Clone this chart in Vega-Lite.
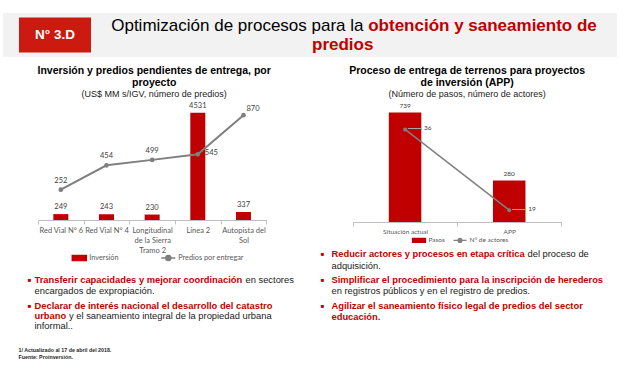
{
  "$schema": "https://vega.github.io/schema/vega-lite/v6.json",
  "background": "white",
  "padding": {"left": 3, "top": 13, "right": 0, "bottom": 0},
  "config": {
    "view": {"stroke": null},
    "font": "Liberation Sans",
    "axis": {"domainColor": "#bfbfbf", "tickColor": "#bfbfbf", "tickSize": 4, "labelAngle": 0, "labelFont": "Lato", "labelColor": "#595959", "labelPadding": 2.5, "labelLineHeight": 10, "tickBand": "extent", "labelLimit": 0, "grid": false, "title": null},
    "title": {"frame": "group"},
    "text": {"baseline": "middle", "align": "left"}
  },
  "spacing": 43,
  "bounds": "flush",
  "vconcat": [
    {
      "width": 614,
      "height": 44,
      "view": {"fill": "#f2f2f2", "stroke": null},
      "data": {"values": [{"code": "N° 3.D"}]},
      "layer": [
        {"mark": {"type": "rect", "color": "#cc1a10"},
          "encoding": {
            "x": {"field": "code", "type": "nominal", "scale": {"domain": ["N° 3.D", "_1", "_2", "_3", "_4", "_5", "_6", "_7"], "paddingInner": 0, "paddingOuter": 0.264, "align": 0.421}, "axis": null},
            "y": {"field": "code", "type": "nominal", "scale": {"paddingInner": 0, "paddingOuter": 0.1286, "align": 0.5}, "axis": null}
          }},
        {"mark": {"type": "text", "color": "white", "fontWeight": "bold", "fontSize": 13.5, "align": "center", "baseline": "middle"},
          "encoding": {
            "x": {"field": "code", "type": "nominal"},
            "y": {"field": "code", "type": "nominal"},
            "text": {"field": "code", "type": "nominal"}
          }},
        {"mark": {"type": "text", "align": "right", "baseline": "middle", "fontSize": 17, "color": "#000000", "dx": 53.5, "dy": -9}, "encoding": {"text": {"value": "Optimización de procesos para la"}}},
        {"mark": {"type": "text", "align": "left", "baseline": "middle", "fontSize": 17, "fontWeight": "bold", "color": "#c00000", "dx": 58.2, "dy": -9}, "encoding": {"text": {"value": "obtención y saneamiento de"}}},
        {"mark": {"type": "text", "align": "center", "baseline": "middle", "fontSize": 17, "fontWeight": "bold", "color": "#c00000", "dx": 32.7, "dy": 9.7}, "encoding": {"text": {"value": "predios"}}}
      ]
    },
    {
      "spacing": 0,
      "bounds": "flush",
      "resolve": {"scale": {"color": "independent"}, "legend": {"color": "independent"}},
      "hconcat": [
        {"data": {"values": [{}]}, "width": 14.5, "height": 1, "mark": "text", "encoding": {"text": {"value": ""}}},
        {"data": {"values": [{}]}, "width": 1, "height": 250,
          "mark": {"type": "text", "align": "left", "baseline": "middle", "fontSize": 5.3, "fontWeight": "bold", "lineHeight": 6.6, "lineBreak": "\n", "color": "#262626"},
          "encoding": {
            "y": {"datum": "f", "type": "ordinal", "scale": {"type": "point", "padding": 0, "align": 1}, "axis": null},
            "text": {"value": "1/ Actualizado al 17 de abril del 2018.\nFuente: Proinversión."}
          }},
        {"data": {"values": [{}]}, "width": 14.3, "height": 1, "mark": "text", "encoding": {"text": {"value": ""}}},
        {
          "width": 1,
          "height": 205.7,
          "encoding": {"y": {"field": "b", "type": "ordinal", "scale": {"type": "point", "domain": [0, 1, 2, 3, 4, 5, 6, 7, 8], "padding": 0}, "axis": null}},
          "layer": [
            {"data": {"values": [{"b": 7}, {"b": 8}]}, "mark": {"type": "text", "align": "center", "fontSize": 6, "color": "#c00000", "dx": -5}, "encoding": {"text": {"value": "■"}}},
            {"data": {"values": [{"b": 7, "t": "Transferir capacidades y mejorar coordinación"}, {"b": 8, "t": "Declarar de interés nacional el desarrollo del catastro"}]},
              "mark": {"type": "text", "fontSize": 9.35, "fontWeight": "bold", "color": "#c00000"}, "encoding": {"text": {"field": "t", "type": "nominal"}}},
            {"data": {"values": [{"b": 7, "t": "en sectores"}]},
              "mark": {"type": "text", "dx": 211, "fontSize": 9.35, "color": "#1a1a1a"}, "encoding": {"text": {"field": "t", "type": "nominal"}}},
            {"data": {"values": [{"b": 7, "t": "encargados de expropiación."}]},
              "mark": {"type": "text", "dy": 10.7, "fontSize": 9.35, "color": "#1a1a1a"}, "encoding": {"text": {"field": "t", "type": "nominal"}}},
            {"data": {"values": [{"b": 8, "t": "urbano"}]},
              "mark": {"type": "text", "dy": 10.3, "fontSize": 9.35, "fontWeight": "bold", "color": "#c00000"}, "encoding": {"text": {"field": "t", "type": "nominal"}}},
            {"data": {"values": [{"b": 8, "t": "y el saneamiento integral de la propiedad urbana"}]},
              "mark": {"type": "text", "dy": 10.3, "dx": 34.5, "fontSize": 9.35, "color": "#1a1a1a"}, "encoding": {"text": {"field": "t", "type": "nominal"}}},
            {"data": {"values": [{"b": 8, "t": "informal.."}]},
              "mark": {"type": "text", "dy": 20.6, "fontSize": 9.35, "color": "#1a1a1a"}, "encoding": {"text": {"field": "t", "type": "nominal"}}}
          ]
        },
        {"data": {"values": [{}]}, "width": 2.9, "height": 1, "mark": "text", "encoding": {"text": {"value": ""}}},
        {
          "width": 228.3,
          "height": 120,
          "title": {"text": ["Inversión y predios pendientes de entrega, por", "proyecto"], "subtitle": "(US$ MM s/IGV, número de predios)", "font": "Liberation Sans", "fontSize": 10.5, "fontWeight": "bold", "color": "#000000", "lineHeight": 12, "subtitleFont": "Liberation Sans", "subtitleFontSize": 9, "subtitleColor": "#1a1a1a", "subtitlePadding": 2, "offset": 1, "anchor": "middle", "dx": 2},
          "data": {"values": [
            {"proyecto": "Red Vial N° 6", "inversion": 249, "predios": 252},
            {"proyecto": "Red Vial N° 4", "inversion": 243, "predios": 454},
            {"proyecto": "Longitudinal de la Sierra Tramo 2", "inversion": 230, "predios": 499},
            {"proyecto": "Línea 2", "inversion": 4531, "predios": 545},
            {"proyecto": "Autopista del Sol", "inversion": 337, "predios": 870}
          ]},
          "encoding": {
            "x": {"field": "proyecto", "type": "nominal", "sort": null, "title": null, "scale": {"paddingInner": 0, "paddingOuter": 0},
              "axis": {"labelFontSize": 7.5, "labelExpr": "datum.value == 'Longitudinal de la Sierra Tramo 2' ? ['Longitudinal','de la Sierra','Tramo 2'] : datum.value == 'Autopista del Sol' ? ['Autopista del','Sol'] : datum.value"}}
          },
          "layer": [
            {
              "layer": [
                {"mark": {"type": "bar", "size": 15},
                  "encoding": {
                    "y": {"field": "inversion", "type": "quantitative", "scale": {"domain": [0, 5070], "nice": false}, "axis": null},
                    "color": {"datum": "Inversión", "type": "nominal", "scale": {"domain": ["Inversión", "Predios por entregar"], "range": ["#c00000", "#7f7f7f"]},
                      "legend": {"orient": "none", "legendX": 33.3, "legendY": 149.7, "direction": "horizontal", "title": null, "padding": 0, "labelFont": "Lato", "labelFontSize": 7.3, "labelColor": "#595959", "symbolSize": 196, "labelOffset": 2, "columnPadding": 39,
                        "encode": {"symbols": {"update": {"shape": {"signal": "datum.value == 'Inversión' ? 'M-1,-0.36H1V0.36H-1Z' : 'M-1,0H1M0.36,0A0.36,0.36,0,1,1,-0.36,0A0.36,0.36,0,1,1,0.36,0'"}, "fill": {"scale": "color", "field": "value"}, "stroke": {"scale": "color", "field": "value"}, "strokeWidth": {"value": 1.5}}}}}}
                  }},
                {"mark": {"type": "text", "align": "center", "baseline": "bottom", "dy": -3, "font": "Lato", "fontSize": 7.5, "color": "#404040"},
                  "encoding": {
                    "y": {"field": "inversion", "type": "quantitative", "scale": {"domain": [0, 5070], "nice": false}, "axis": null},
                    "text": {"field": "inversion", "type": "quantitative", "format": "d"}
                  }}
              ]
            },
            {
              "layer": [
                {"mark": {"type": "line", "strokeWidth": 2, "point": {"filled": true, "size": 22}},
                  "encoding": {
                    "y": {"field": "predios", "type": "quantitative", "scale": {"domain": [0, 996], "nice": false}, "axis": null},
                    "color": {"datum": "Predios por entregar", "type": "nominal"}
                  }},
                {"transform": [{"filter": "datum.predios < 540"}],
                  "mark": {"type": "text", "align": "center", "baseline": "bottom", "dy": -5, "font": "Lato", "fontSize": 7.5, "color": "#404040"},
                  "encoding": {
                    "y": {"field": "predios", "type": "quantitative", "scale": {"domain": [0, 996], "nice": false}, "axis": null},
                    "text": {"field": "predios", "type": "quantitative", "format": "d"}
                  }},
                {"transform": [{"filter": "datum.predios == 545"}],
                  "mark": {"type": "text", "baseline": "middle", "align": "left", "dx": 7, "dy": -1, "font": "Lato", "fontSize": 7.5, "color": "#404040"},
                  "encoding": {
                    "y": {"field": "predios", "type": "quantitative", "scale": {"domain": [0, 996], "nice": false}, "axis": null},
                    "text": {"field": "predios", "type": "quantitative", "format": "d"}
                  }},
                {"transform": [{"filter": "datum.predios == 870"}],
                  "mark": {"type": "text", "baseline": "bottom", "align": "left", "dx": 3, "dy": -2, "font": "Lato", "fontSize": 7.5, "color": "#404040"},
                  "encoding": {
                    "y": {"field": "predios", "type": "quantitative", "scale": {"domain": [0, 996], "nice": false}, "axis": null},
                    "text": {"field": "predios", "type": "quantitative", "format": "d"}
                  }}
              ]
            }
          ],
          "resolve": {"scale": {"y": "independent"}}
        },
        {"data": {"values": [{}]}, "width": 63.5, "height": 1, "mark": "text", "encoding": {"text": {"value": ""}}},
        {
          "width": 1,
          "height": 205.7,
          "encoding": {"y": {"field": "b", "type": "ordinal", "scale": {"type": "point", "domain": [0, 1, 2, 3, 4, 5, 6, 7, 8], "padding": 0}, "axis": null}},
          "layer": [
            {"data": {"values": [{"b": 6}, {"b": 7}, {"b": 8}]}, "mark": {"type": "text", "align": "center", "fontSize": 6, "color": "#c00000", "dx": -9}, "encoding": {"text": {"value": "■"}}},
            {"data": {"values": [{"b": 6, "t": "Reducir actores y procesos en etapa crítica"}, {"b": 7, "t": "Simplificar el procedimiento para la inscripción de herederos"}, {"b": 8, "t": "Agilizar el saneamiento físico legal de predios del sector"}]},
              "mark": {"type": "text", "fontSize": 9.35, "fontWeight": "bold", "color": "#c00000"}, "encoding": {"text": {"field": "t", "type": "nominal"}}},
            {"data": {"values": [{"b": 6, "t": "del proceso de"}]},
              "mark": {"type": "text", "dx": 196, "fontSize": 9.35, "color": "#1a1a1a"}, "encoding": {"text": {"field": "t", "type": "nominal"}}},
            {"data": {"values": [{"b": 6, "t": "adquisición."}, {"b": 7, "t": "en registros públicos y en el registro de predios."}]},
              "mark": {"type": "text", "dy": 11.3, "fontSize": 9.35, "color": "#1a1a1a"}, "encoding": {"text": {"field": "t", "type": "nominal"}}},
            {"data": {"values": [{"b": 8, "t": "educación."}]},
              "mark": {"type": "text", "dy": 11.6, "fontSize": 9.35, "fontWeight": "bold", "color": "#c00000"}, "encoding": {"text": {"field": "t", "type": "nominal"}}}
          ]
        },
        {"data": {"values": [{}]}, "width": 20.5, "height": 1, "mark": "text", "encoding": {"text": {"value": ""}}},
        {
          "width": 208.3,
          "height": 122,
          "title": {"text": ["Proceso de entrega de terrenos para proyectos", "de inversión (APP)"], "subtitle": "(Número de pasos, número de actores)", "font": "Liberation Sans", "fontSize": 10.5, "fontWeight": "bold", "color": "#000000", "lineHeight": 12, "subtitleFont": "Liberation Sans", "subtitleFontSize": 9, "subtitleColor": "#1a1a1a", "subtitlePadding": 2, "offset": 1, "anchor": "middle", "dx": 10},
          "data": {"values": [
            {"etapa": "Situación actual", "pasos": 739, "actores": 36},
            {"etapa": "APP", "pasos": 280, "actores": 19}
          ]},
          "encoding": {
            "x": {"field": "etapa", "type": "nominal", "sort": null, "title": null, "scale": {"paddingInner": 0, "paddingOuter": 0}, "axis": {"labelFontSize": 6.5}}
          },
          "layer": [
            {
              "layer": [
                {"mark": {"type": "bar", "size": 32.5},
                  "encoding": {
                    "y": {"field": "pasos", "type": "quantitative", "scale": {"domain": [0, 824], "nice": false}, "axis": null},
                    "color": {"datum": "Pasos", "type": "nominal", "scale": {"domain": ["Pasos", "N° de actores"], "range": ["#c00000", "#808080"]},
                      "legend": {"orient": "none", "legendX": 58.5, "legendY": 132.8, "direction": "horizontal", "title": null, "padding": 0, "labelFont": "Lato", "labelFontSize": 6.5, "labelColor": "#595959", "symbolSize": 169, "labelOffset": 2, "columnPadding": 5,
                        "encode": {"symbols": {"update": {"shape": {"signal": "datum.value == 'Pasos' ? 'M-1,-0.3H1V0.3H-1Z' : 'M-1,0H1M0.3,0A0.3,0.3,0,1,1,-0.3,0A0.3,0.3,0,1,1,0.3,0'"}, "fill": {"scale": "color", "field": "value"}, "stroke": {"scale": "color", "field": "value"}, "strokeWidth": {"value": 1.2}}}}}}
                  }},
                {"mark": {"type": "text", "align": "center", "baseline": "bottom", "dy": -3.5, "font": "Lato", "fontSize": 6.5, "color": "#404040"},
                  "encoding": {
                    "y": {"field": "pasos", "type": "quantitative", "scale": {"domain": [0, 824], "nice": false}, "axis": null},
                    "text": {"field": "pasos", "type": "quantitative", "format": "d"}
                  }}
              ]
            },
            {
              "layer": [
                {"mark": {"type": "text", "align": "left", "baseline": "middle", "dx": 3, "dy": -1.5, "fontSize": 13, "color": "#a6a6a6"},
                  "encoding": {
                    "y": {"field": "actores", "type": "quantitative", "scale": {"domain": [16.5, 42.2], "nice": false, "zero": false}, "axis": null},
                    "text": {"value": "—"}
                  }},
                {"mark": {"type": "line", "strokeWidth": 1.5, "point": {"filled": true, "size": 16}},
                  "encoding": {
                    "y": {"field": "actores", "type": "quantitative", "scale": {"domain": [16.5, 42.2], "nice": false, "zero": false}, "axis": null},
                    "color": {"datum": "N° de actores", "type": "nominal"}
                  }},
                {"mark": {"type": "text", "align": "left", "baseline": "middle", "dx": 19, "dy": -1.5, "font": "Lato", "fontSize": 6.5, "color": "#404040"},
                  "encoding": {
                    "y": {"field": "actores", "type": "quantitative", "scale": {"domain": [16.5, 42.2], "nice": false, "zero": false}, "axis": null},
                    "text": {"field": "actores", "type": "quantitative", "format": "d"}
                  }}
              ]
            }
          ],
          "resolve": {"scale": {"y": "independent"}}
        }
      ]
    }
  ]
}
